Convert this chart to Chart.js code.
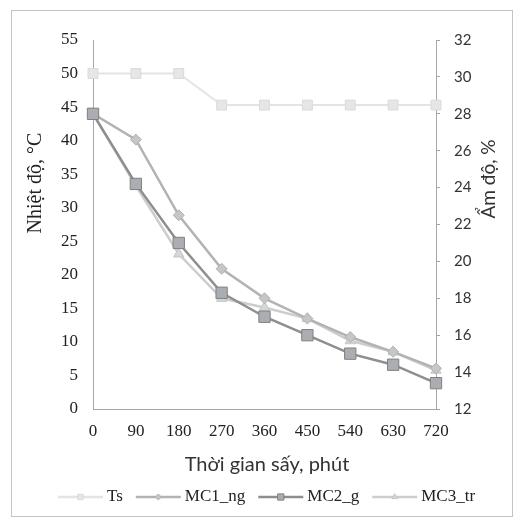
<!DOCTYPE html>
<html>
<head>
<meta charset="utf-8">
<script src="https://cdn.jsdelivr.net/npm/chart.js@4/dist/chart.umd.min.js"></script>
<style>
  body { margin: 0; background: #fff; }
  #wrap { position: relative; width: 514px; height: 518px; }
  #frame { position: absolute; left: 11px; top: 10px; width: 500px; height: 505px; border: 1px solid #c4c4c4; }
  canvas { position: absolute; left: 0; top: 0; }
</style>
</head>
<body>
<div id="wrap">
  <div id="frame"></div>
  <canvas id="chart" width="514" height="518"></canvas>
</div>
<script>
// thoi gian say (phut)
const times = ["0", "90", "180", "270", "360", "450", "540", "630", "720"];

// nhiet do say, truc trai
const ts = [50, 50, 50, 45.3, 45.3, 45.3, 45.3, 45.3, 45.3];

// am do, truc phai
const mc1 = [28, 26.6, 22.5, 19.6, 18.0, 16.9, 15.9, 15.1, 14.2];
const mc2 = [28, 24.2, 21.0, 18.3, 17.0, 16.0, 15.0, 14.4, 13.4];
const mc3 = [28, 24.1, 20.4, 18.0, 17.5, 16.9, 15.7, 15.1, 14.1];

const serif = "'Liberation Serif', 'DejaVu Serif', serif";
const sans = "Lato, 'Liberation Sans', sans-serif";

const axisGray = "#a6a6a6";

function series(label, data, axis, style, line, fill, border, radius, order) {
  return {
    label, data, yAxisID: axis,
    borderColor: line, borderWidth: 2.5,
    pointStyle: style, pointRadius: radius, pointHoverRadius: radius,
    pointBackgroundColor: fill, pointBorderColor: border, pointBorderWidth: 1,
    tension: 0, fill: false, order
  };
}

const datasets = [
  series("Ts", ts, "y", "rect", "#e4e4e4", "#e6e6e6", "#dadada", 7, 4),
  series("MC1_ng", mc1, "y1", "rectRot", "#b3b3b3", "#c6c6c6", "#b0b0b0", 5.5, 2),
  series("MC2_g", mc2, "y1", "rect", "#8e8e8e", "#aaaeb3", "#808080", 8, 1),
  series("MC3_tr", mc3, "y1", "triangle", "#cdcdcd", "#d6d6d6", "#c6c6c6", 6, 3)
];
datasets[0].borderWidth = 2;

// tieu de truc va chu thich
const extras = {
  id: "extras",
  afterDraw(chart) {
    const ctx = chart.ctx;
    ctx.save();
    ctx.fillStyle = "#222";
    ctx.textAlign = "center";
    ctx.textBaseline = "middle";

    ctx.save();
    ctx.translate(36, 183);
    ctx.rotate(-Math.PI / 2);
    ctx.font = "20px " + serif;
    ctx.fillText("Nhiệt độ, °C", 0, 0);
    ctx.restore();

    ctx.save();
    ctx.translate(489, 179);
    ctx.rotate(-Math.PI / 2);
    ctx.font = "19px " + sans;
    ctx.fillStyle = "#333";
    ctx.fillText("Ẩm độ, %", 0, 0);
    ctx.restore();

    ctx.font = "20px " + sans;
    ctx.fillStyle = "#333";
    ctx.fillText("Thời gian sấy, phút", 267, 465);

    // legend
    ctx.font = "17px " + serif;
    ctx.textAlign = "left";
    let x = 58;
    const y = 497;
    chart.data.datasets.forEach((ds) => {
      ctx.strokeStyle = ds.borderColor;
      ctx.lineWidth = 2.5;
      ctx.beginPath();
      ctx.moveTo(x, y);
      ctx.lineTo(x + 45, y);
      ctx.stroke();
      ctx.fillStyle = ds.pointBackgroundColor;
      ctx.strokeStyle = ds.pointBorderColor;
      ctx.lineWidth = 1;
      const r = ds.pointRadius * 0.55;
      Chart.helpers.drawPoint(ctx, { pointStyle: ds.pointStyle, radius: r, borderWidth: 1, rotation: 0 }, x + 22.5, y);
      ctx.fillStyle = "#222";
      ctx.fillText(ds.label, x + 49, y);
      x += 49 + ctx.measureText(ds.label).width + 13;
    });
    ctx.restore();
  }
};

new Chart(document.getElementById("chart"), {
  type: "line",
  data: { labels: times, datasets },
  options: {
    responsive: false,
    devicePixelRatio: 1,
    animation: false,
    layout: { padding: { top: 40, left: 0, right: 0, bottom: 0 } },
    plugins: { legend: { display: false }, tooltip: { enabled: false } },
    scales: {
      x: {
        offset: false,
        grid: { drawOnChartArea: false, drawTicks: false },
        border: { display: true, color: axisGray, width: 1 },
        ticks: { font: { family: serif, size: 17 }, color: "#222", padding: 12, maxRotation: 0, autoSkip: false },
        afterFit(scale) { scale.height = 109; }
      },
      y: {
        position: "left",
        min: 0, max: 55,
        grid: { drawOnChartArea: false, drawTicks: false },
        border: { display: true, color: axisGray, width: 1 },
        ticks: { stepSize: 5, font: { family: serif, size: 17 }, color: "#222", padding: 15 },
        afterFit(scale) { scale.width = 93; }
      },
      y1: {
        position: "right",
        min: 12, max: 32,
        grid: { drawOnChartArea: false, drawTicks: true, tickLength: 4, color: axisGray },
        border: { display: true, color: axisGray, width: 1 },
        ticks: { stepSize: 2, font: { family: sans, size: 15 }, color: "#333", padding: 14 },
        afterFit(scale) { scale.width = 78; }
      }
    }
  },
  plugins: [extras]
});
</script>
</body>
</html>
